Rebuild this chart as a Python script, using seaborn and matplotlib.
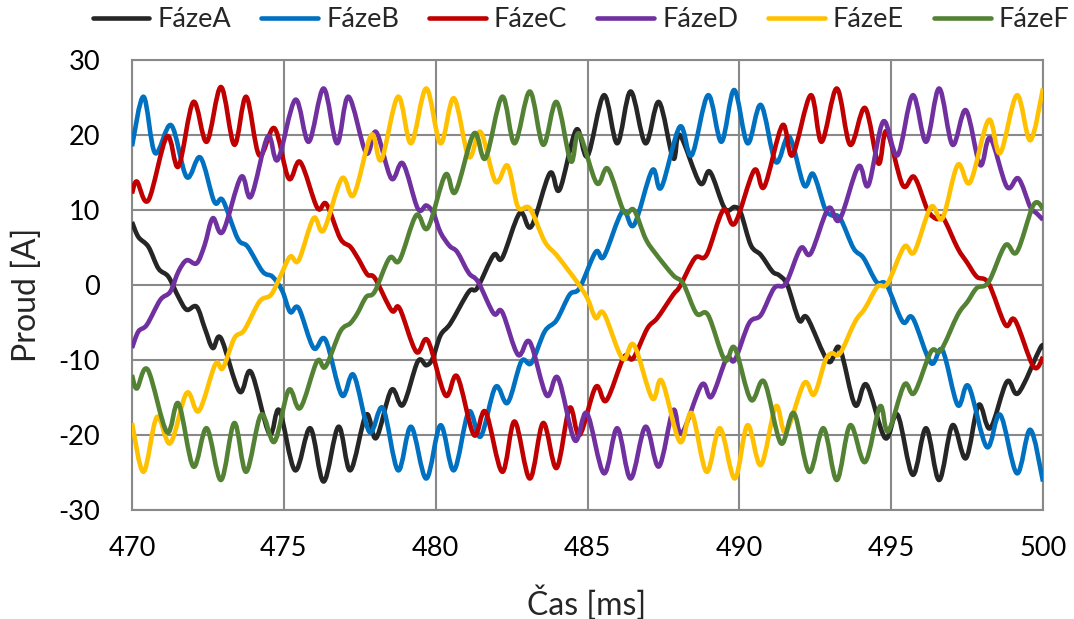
import numpy as np
import pandas as pd
import matplotlib
matplotlib.use("Agg")
import matplotlib.pyplot as plt
from matplotlib.path import Path
from matplotlib.patches import PathPatch
from matplotlib.lines import Line2D
import seaborn as sns

# Phase currents [A] sampled at the ripple extrema, time in ms
t_a = [470.0, 470.21, 470.54, 470.87, 471.2, 471.53, 471.8, 472.13, 472.4, 472.66,
       472.93, 473.54, 473.92, 474.52, 474.85, 475.37, 475.87, 476.31, 476.8, 477.19,
       477.71, 478.04, 478.54, 478.92, 479.41, 479.69, 479.9, 480.16, 480.49, 481.09,
       481.37, 481.91, 482.19, 482.77, 483.15, 483.76, 484.08, 484.63, 485.0, 485.54,
       485.98, 486.42, 486.91, 487.35, 487.82, 488.04, 488.7, 489.03, 489.52, 489.85,
       490.05, 490.38, 490.71, 491.09, 491.31, 491.58, 491.97, 492.24, 492.93, 493.3,
       493.81, 494.19, 494.8, 495.21, 495.71, 496.15, 496.58, 497.02, 497.46, 497.88,
       498.26, 498.81, 499.19, 499.91, 500.0]
i_a = [8.4, 6.4, 5.1, 2.2, 1.1, -1.6, -3.3, -2.9, -5.8, -8.4,
       -7.1, -14.2, -11.6, -19.8, -16.7, -24.7, -19.1, -26.2, -18.9, -24.7,
       -17.3, -20.4, -14.0, -16.0, -10.2, -10.7, -9.8, -6.7, -5.1, -0.9,
       -0.4, 4.0, 3.6, 9.6, 7.8, 14.9, 12.7, 20.7, 17.2, 25.3,
       18.9, 25.8, 18.9, 24.4, 16.9, 20.0, 13.6, 15.1, 10.2, 10.4,
       9.6, 5.3, 4.0, 1.8, 1.3, 0.0, -4.7, -4.4, -10.2, -8.4,
       -16.0, -13.3, -20.4, -17.3, -25.3, -19.1, -26.0, -18.7, -23.1, -16.0,
       -19.1, -12.9, -14.4, -8.4, -8.6]

t_b = [470.0, 470.38, 470.76, 471.29, 471.8, 472.25, 472.71, 472.99, 473.48, 473.81,
       474.3, 474.63, 474.95, 475.21, 475.49, 475.98, 476.37, 476.91, 477.3, 477.82,
       478.26, 478.76, 479.19, 479.69, 480.16, 480.6, 481.09, 481.48, 481.97, 482.37,
       482.82, 483.15, 483.59, 483.98, 484.41, 484.74, 485.27, 485.54, 486.15, 486.53,
       487.13, 487.43, 488.04, 488.43, 488.97, 489.41, 489.83, 490.27, 490.71, 491.2,
       491.64, 492.13, 492.43, 492.82, 493.04, 493.32, 493.76, 494.09, 494.52, 494.85,
       495.38, 495.71, 496.31, 496.69, 497.19, 497.55, 498.15, 498.59, 499.14, 499.58,
       500.0]
i_b = [18.5, 25.1, 17.6, 21.3, 14.4, 17.0, 11.1, 11.3, 6.2, 5.1,
       1.8, 1.1, -0.8, -3.6, -3.1, -8.4, -7.3, -14.7, -12.0, -19.6,
       -16.4, -24.7, -18.9, -25.8, -18.7, -24.7, -16.9, -20.2, -13.6, -15.7,
       -10.2, -10.4, -6.2, -4.7, -1.3, -0.4, 4.4, 3.8, 9.8, 8.0,
       15.3, 13.0, 21.1, 17.3, 25.3, 19.1, 26.0, 18.9, 24.0, 16.4,
       19.8, 13.3, 14.8, 10.2, 9.3, 8.9, 4.9, 3.6, 0.4, 0.0,
       -4.9, -4.4, -10.4, -8.7, -16.0, -13.5, -21.6, -17.3, -25.1, -19.3,
       -26.2]

t_c = [470.0, 470.16, 470.54, 471.15, 471.53, 472.02, 472.46, 472.93, 473.37, 473.76,
       474.19, 474.69, 475.16, 475.54, 476.1, 476.4, 476.86, 477.19, 477.45, 477.75,
       478.0, 478.55, 478.81, 479.36, 479.74, 480.32, 480.71, 481.26, 481.64, 482.19,
       482.6, 483.1, 483.54, 483.98, 484.41, 484.74, 485.27, 485.62, 486.2, 486.5,
       486.97, 487.3, 487.82, 488.04, 488.54, 488.92, 489.47, 489.85, 490.49, 490.82,
       491.42, 491.75, 492.35, 492.71, 493.21, 493.65, 494.14, 494.58, 494.85, 495.38,
       495.76, 496.2, 496.5, 496.72, 497.19, 497.5, 497.82, 498.21, 498.76, 499.08,
       499.69, 500.0]
i_c = [12.2, 13.8, 11.3, 19.8, 15.8, 24.4, 19.1, 26.4, 18.7, 25.1,
       17.3, 20.9, 14.2, 16.4, 10.3, 10.8, 6.2, 5.1, 3.5, 1.4,
       0.9, -3.4, -3.1, -8.9, -7.4, -14.7, -12.2, -20.0, -16.9, -24.9,
       -18.2, -25.8, -18.4, -24.4, -16.4, -20.0, -13.6, -15.4, -9.6, -9.8,
       -5.8, -4.4, -1.3, -0.2, 3.6, 4.0, 10.0, 8.2, 15.3, 13.1,
       21.3, 17.3, 25.3, 19.1, 26.2, 18.7, 23.6, 16.2, 20.5, 13.3,
       14.4, 10.0, 8.8, 8.9, 4.9, 3.0, 1.1, 0.2, -5.3, -4.7,
       -10.9, -9.6]

t_d = [470.0, 470.21, 470.49, 470.93, 471.26, 471.53, 471.8, 472.13, 472.39, 472.66,
       472.99, 473.59, 473.92, 474.47, 474.8, 475.38, 475.82, 476.31, 476.75, 477.13,
       477.71, 478.04, 478.54, 478.92, 479.41, 479.69, 479.92, 480.16, 480.46, 480.71,
       481.09, 481.4, 481.91, 482.19, 482.71, 483.1, 483.65, 484.03, 484.58, 484.98,
       485.54, 485.98, 486.42, 486.91, 487.35, 487.82, 488.1, 488.76, 489.08, 489.58,
       489.85, 490.32, 490.71, 491.15, 491.53, 492.02, 492.35, 492.93, 493.3, 493.92,
       494.25, 494.74, 495.21, 495.71, 496.15, 496.58, 497.02, 497.46, 497.93, 498.26,
       498.81, 499.19, 499.58, 499.78, 500.0]
i_d = [-8.4, -6.2, -5.3, -2.0, -0.9, 1.8, 3.3, 2.9, 5.3, 8.9,
       7.1, 14.4, 11.8, 19.8, 16.7, 24.7, 19.1, 26.2, 18.9, 25.1,
       17.6, 20.4, 14.2, 16.2, 10.2, 10.6, 9.6, 7.0, 5.2, 4.4,
       1.6, 0.4, -3.8, -3.6, -9.3, -7.6, -14.7, -12.4, -20.7, -17.1,
       -25.1, -19.1, -25.8, -18.9, -24.2, -16.7, -19.8, -13.3, -14.9, -9.8,
       -10.0, -5.1, -4.0, -0.4, 0.2, 4.9, 4.2, 10.2, 8.7, 15.8,
       13.3, 21.8, 17.3, 25.3, 19.1, 26.2, 18.7, 23.3, 16.0, 19.6,
       13.1, 14.2, 10.4, 9.6, 8.7]

t_e = [470.0, 470.38, 470.82, 471.26, 471.8, 472.2, 472.74, 472.99, 473.37, 473.7,
       474.2, 474.58, 474.9, 475.21, 475.49, 475.98, 476.31, 476.91, 477.3, 477.88,
       478.21, 478.76, 479.19, 479.69, 480.16, 480.6, 481.09, 481.48, 481.97, 482.37,
       482.71, 483.1, 483.59, 483.98, 484.36, 484.69, 485.0, 485.27, 485.54, 486.15,
       486.53, 487.13, 487.45, 488.04, 488.43, 488.92, 489.36, 489.85, 490.27, 490.71,
       491.2, 491.53, 492.13, 492.46, 492.82, 493.04, 493.32, 493.81, 494.14, 494.55,
       494.88, 495.43, 495.76, 496.31, 496.69, 497.19, 497.6, 498.21, 498.59, 499.14,
       499.58, 500.0]
i_e = [-18.4, -24.9, -17.6, -21.1, -14.4, -16.8, -10.6, -11.1, -7.1, -6.0,
       -2.2, -1.3, 1.3, 3.8, 3.3, 8.9, 7.3, 14.2, 12.0, 20.0,
       16.7, 25.1, 18.9, 26.2, 18.9, 24.9, 17.1, 20.4, 13.8, 15.9,
       10.4, 10.2, 5.8, 4.0, 2.0, 0.2, -1.8, -4.4, -3.8, -9.8,
       -8.0, -15.1, -12.8, -20.9, -17.1, -24.9, -19.1, -25.8, -18.7, -24.0,
       -16.2, -19.6, -13.1, -14.6, -10.2, -9.1, -9.1, -4.9, -3.1, -0.2,
       0.2, 5.1, 4.4, 10.4, 8.9, 16.0, 13.7, 22.0, 17.6, 25.3,
       19.3, 26.2]

t_f = [470.0, 470.16, 470.52, 471.15, 471.53, 472.02, 472.46, 472.93, 473.37, 473.76,
       474.25, 474.69, 475.16, 475.54, 476.09, 476.37, 476.86, 477.19, 477.42, 477.71,
       477.99, 478.48, 478.81, 479.36, 479.74, 480.32, 480.65, 481.26, 481.64, 482.19,
       482.6, 483.1, 483.54, 483.98, 484.45, 484.72, 485.3, 485.67, 486.2, 486.53,
       486.91, 487.24, 487.82, 488.15, 488.59, 488.97, 489.52, 489.85, 490.38, 490.82,
       491.37, 491.8, 492.3, 492.77, 493.21, 493.65, 494.14, 494.63, 494.9, 495.43,
       495.76, 496.31, 496.64, 497.19, 497.52, 497.82, 498.21, 498.76, 499.14, 499.69,
       500.0]
i_f = [-12.0, -13.8, -11.3, -19.6, -15.8, -24.2, -19.1, -26.0, -18.4, -24.9,
       -17.3, -20.9, -14.0, -16.4, -10.2, -10.9, -6.2, -5.1, -3.8, -1.6,
       -0.9, 3.6, 3.3, 9.3, 7.6, 14.7, 12.4, 20.2, 16.9, 25.1,
       18.9, 25.8, 18.7, 24.4, 16.5, 20.2, 13.6, 15.5, 9.8, 10.0,
       6.2, 4.2, 1.3, 0.2, -3.8, -4.0, -10.0, -8.4, -15.3, -12.9,
       -21.1, -17.1, -24.9, -19.1, -26.0, -18.7, -23.6, -16.2, -19.5, -13.3,
       -14.4, -8.9, -8.7, -4.0, -2.2, -0.4, 0.4, 5.3, 4.4, 10.7,
       10.2]

phases = ["FázeA", "FázeB", "FázeC", "FázeD", "FázeE", "FázeF"]
colors = ["#262626", "#0070C0", "#C00000", "#7030A0", "#FFC000", "#548235"]
x_ticks = [470, 475, 480, 485, 490, 495, 500]
y_ticks = [-30, -20, -10, 0, 10, 20, 30]

series = [(t_a, i_a), (t_b, i_b), (t_c, i_c), (t_d, i_d), (t_e, i_e), (t_f, i_f)]
df = pd.concat(
    [pd.DataFrame({"t": t, "I": i, "phase": name}) for name, (t, i) in zip(phases, series)],
    ignore_index=True,
)


def smoothed(x, y):
    """Cubic Bezier path through the points (smoothed-line rendering)."""
    x = np.asarray(x, float)
    y = np.asarray(y, float)
    n = len(x)
    verts = [(x[0], y[0])]
    codes = [Path.MOVETO]
    for k in range(n - 1):
        k0 = max(k - 1, 0)
        k3 = min(k + 2, n - 1)
        verts.append((x[k] + (x[k + 1] - x[k0]) / 6, y[k] + (y[k + 1] - y[k0]) / 6))
        verts.append((x[k + 1] - (x[k3] - x[k]) / 6, y[k + 1] - (y[k3] - y[k]) / 6))
        verts.append((x[k + 1], y[k + 1]))
        codes += [Path.CURVE4] * 3
    return Path(verts, codes)


sns.set_theme(style="white")
plt.rcParams["font.family"] = ["Lato", "DejaVu Sans"]
plt.rcParams["axes.unicode_minus"] = False

grid_col = "#898989"
fig = plt.figure(figsize=(10.74, 6.19), dpi=100)
ax = fig.add_axes([132 / 1074, 1 - 510 / 619, 911 / 1074, 450 / 619])

sns.lineplot(data=df, x="t", y="I", hue="phase", palette=colors, hue_order=phases,
             sort=False, estimator=None, legend=False, ax=ax, linewidth=3)

lw = 3.3
for line, color in zip(ax.lines, colors):
    xd, yd = line.get_xdata(), line.get_ydata()
    ax.add_patch(PathPatch(smoothed(xd, yd), fill=False, edgecolor=color, lw=lw,
                           joinstyle="round", capstyle="butt", zorder=3))
    line.set_visible(False)

ax.set_xlim(470, 500)
ax.set_ylim(-30, 30)
ax.set_xticks(x_ticks)
ax.set_yticks(y_ticks)
ax.grid(True, color=grid_col, lw=1.5)
ax.set_axisbelow(True)
for s in ax.spines.values():
    s.set_visible(True)
    s.set_color(grid_col)
    s.set_linewidth(1.5)
ax.tick_params(axis="x", length=0, labelsize=19.5, colors="black", pad=19)
ax.tick_params(axis="y", length=0, labelsize=19.5, colors="black", pad=23)
ax.set_xlabel("")
ax.set_ylabel("")
fig.text(587 / 1074, 1 - 603 / 619, "Čas [ms]", ha="center", va="center", fontsize=23)
fig.text(27 / 1074, 1 - 295 / 619, "Proud [A]", ha="center", va="center",
         rotation=90, fontsize=23)

handles = [Line2D([0], [0], color=c, lw=lw) for c in colors]
fig.legend(handles, phases, loc="center", bbox_to_anchor=(0.541, 0.968), ncol=6,
           frameon=False, fontsize=19.5, handlelength=2.1, columnspacing=1.1,
           handletextpad=0.3)

fig.savefig("out.png", dpi=100)
